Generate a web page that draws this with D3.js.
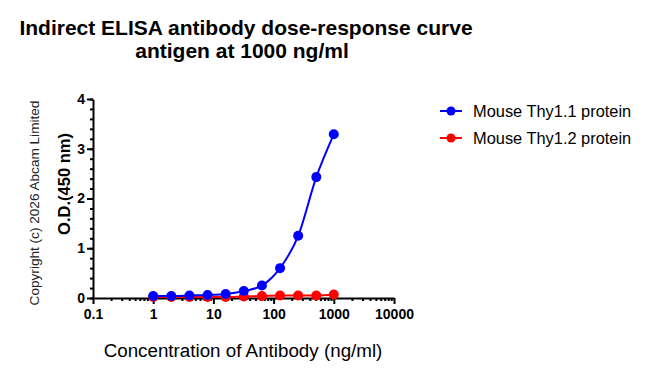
<!DOCTYPE html>
<html>
<head>
<meta charset="utf-8">
<script src="https://cdn.jsdelivr.net/npm/d3@7"></script>
<style>
  body { margin: 0; background: #fff; }
  svg, svg text { font-family: "Liberation Sans", Arial, sans-serif; }
</style>
</head>
<body>
<div id="chart"></div>
<script>
const concentrations = [1, 2, 4, 8, 16, 32, 64, 128, 256, 512, 1000];
const thy11 = [0.04, 0.04, 0.05, 0.06, 0.08, 0.14, 0.25, 0.60, 1.25, 2.43, 3.29];
const thy12 = [0.02, 0.02, 0.02, 0.02, 0.02, 0.03, 0.04, 0.05, 0.05, 0.05, 0.07];
const seriesNames = ['Mouse Thy1.1 protein', 'Mouse Thy1.2 protein'];
const seriesColors = ['#0000ff', '#ff0000'];
const xTicks = [0.1, 1, 10, 100, 1000, 10000];
const yTicks = [0, 1, 2, 3, 4];

const w = 645, h = 373;
const svg = d3.select('#chart').append('svg')
    .attr('width', w)
    .attr('height', h);

const xScale = d3.scaleLog()
    .domain([0.1, 10000])
    .range([93, 394]);

const yScale = d3.scaleLinear()
    .domain([0, 4])
    .range([298, 99]);

// title
svg.append('text')
    .attr('x', 246).attr('y', 35)
    .attr('text-anchor', 'middle')
    .attr('font-size', 21).attr('font-weight', 'bold')
    .text('Indirect ELISA antibody dose-response curve');
svg.append('text')
    .attr('x', 242).attr('y', 58)
    .attr('text-anchor', 'middle')
    .attr('font-size', 21).attr('font-weight', 'bold')
    .text('antigen at 1000 ng/ml');

// x axis
let minor = [];
for (let e = -1; e < 4; e++) {
    for (let k = 2; k <= 9; k++) minor.push(k * Math.pow(10, e));
}
const xg = svg.append('g').attr('transform', 'translate(0,298)');
xg.call(d3.axisBottom(xScale).tickValues(xTicks).tickFormat(d3.format('~g')).tickSize(6).tickPadding(5).tickSizeOuter(0));
xg.append('g').call(d3.axisBottom(xScale).tickValues(minor).tickFormat('').tickSize(3).tickSizeOuter(0))
    .call(g => g.select('.domain').remove());

// y axis
const yMinor = d3.range(0, 4.01, 0.2);
const yg = svg.append('g').attr('transform', 'translate(93,0)');
yg.call(d3.axisLeft(yScale).tickValues(yTicks).tickFormat(d3.format('d')).tickSize(6).tickPadding(2).tickSizeOuter(0));
yg.append('g').call(d3.axisLeft(yScale).tickValues(yMinor).tickFormat('').tickSize(3).tickSizeOuter(0))
    .call(g => g.select('.domain').remove());

[xg, yg].forEach(g => {
    g.attr('font-family', 'Liberation Sans, Arial, sans-serif');
    g.selectAll('text').attr('font-size', 14).attr('font-weight', 'bold').attr('fill', '#000');
    g.selectAll('line, path').attr('stroke', '#000').attr('stroke-width', 2);
});

// axis labels
svg.append('text')
    .attr('x', 243).attr('y', 357)
    .attr('text-anchor', 'middle')
    .attr('font-size', 18.8)
    .text('Concentration of Antibody (ng/ml)');
svg.append('text')
    .attr('transform', 'translate(70,184) rotate(-90)')
    .attr('text-anchor', 'middle')
    .attr('font-size', 16.5).attr('font-weight', 'bold')
    .text('O.D.(450 nm)');
svg.append('text')
    .attr('transform', 'translate(39,203) rotate(-90)')
    .attr('text-anchor', 'middle')
    .attr('font-size', 13.6).attr('fill', '#222')
    .text('Copyright (c) 2026 Abcam Limited');

// series
const line = d3.line()
    .x(d => xScale(d[0]))
    .y(d => yScale(d[1]))
    .curve(d3.curveMonotoneX);

[1, 0].forEach(idx => {
    const vals = idx === 0 ? thy11 : thy12;
    const pts = concentrations.map((c, i) => [c, vals[i]]);
    svg.append('path')
        .datum(pts)
        .attr('d', line)
        .attr('fill', 'none')
        .attr('stroke', seriesColors[idx])
        .attr('stroke-width', 2);
    svg.selectAll('.dot' + idx)
        .data(pts)
        .enter()
        .append('circle')
        .attr('class', 'dot' + idx)
        .attr('cx', d => xScale(d[0]))
        .attr('cy', d => yScale(d[1]))
        .attr('r', 5)
        .attr('fill', seriesColors[idx]);
});

// legend
seriesNames.forEach((name, i) => {
    const y = 111 + i * 27;
    svg.append('line')
        .attr('x1', 440).attr('x2', 462)
        .attr('y1', y).attr('y2', y)
        .attr('stroke', seriesColors[i]).attr('stroke-width', 2);
    svg.append('circle')
        .attr('cx', 451).attr('cy', y).attr('r', 4.5)
        .attr('fill', seriesColors[i]);
    svg.append('text')
        .attr('x', 473).attr('y', y + 6)
        .attr('font-size', 16.4)
        .text(name);
});
</script>
</body>
</html>
